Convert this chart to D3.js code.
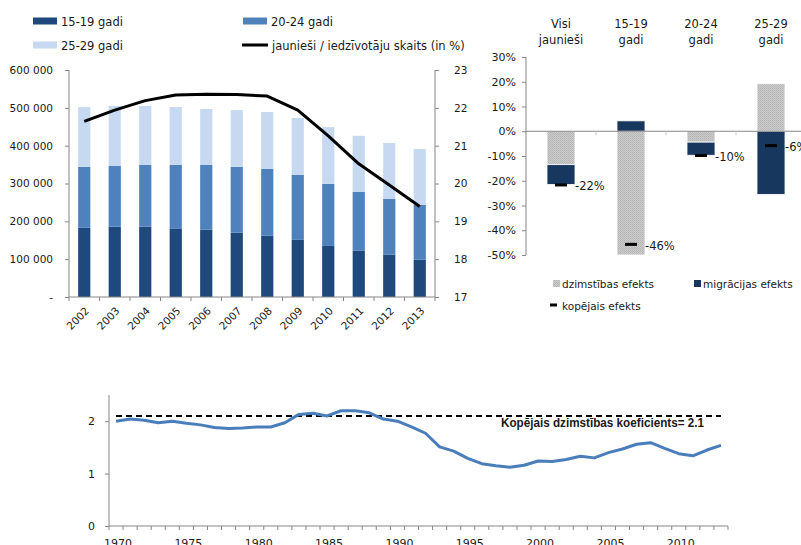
<!DOCTYPE html>
<html>
<head>
<meta charset="utf-8">
<script src="https://cdn.jsdelivr.net/npm/d3@7"></script>
<style>
	body { margin: 0; background: #fff; }
	svg { display: block; }
	text { font-family: "DejaVu Sans", sans-serif; fill: #1a1a1a; }
</style>
</head>
<body>
<svg id="chart" width="801" height="545"></svg>
<script>
// --- data: youth population by age group ---
const years = [2002, 2003, 2004, 2005, 2006, 2007, 2008, 2009, 2010, 2011, 2012, 2013];
const age1519 = [183000, 186000, 186000, 180000, 178000, 170000, 162000, 151000, 135000, 122000, 112000, 98500];
const age2024 = [161000, 161000, 163000, 169000, 171000, 174000, 177000, 172000, 164000, 156000, 147000, 145500];
const age2529 = [158000, 158000, 156000, 153000, 148000, 150000, 150000, 150000, 150000, 148000, 148000, 147000];
const youthShare = [21.64, 21.94, 22.19, 22.34, 22.36, 22.35, 22.31, 21.94, 21.26, 20.52, 19.96, 19.39];
const groupNames = ["15-19 gadi", "20-24 gadi", "25-29 gadi"];
const shareName = "jaunieši / iedzīvotāju skaits (in %)";

// --- data: decomposition of change ---
const effectCats = [["Visi", "jaunieši"], ["15-19", "gadi"], ["20-24", "gadi"], ["25-29", "gadi"]];
const birthEffect = [-13.5, -50, -4.4, 19.2];
const migrationEffect = [-8.0, 4.2, -5.3, -25.5];
const totalEffect = [-21.7, -45.7, -9.8, -5.8];
const totalLabels = ["-22%", "-46%", "-10%", "-6%"];
const effectNames = ["dzimstības efekts", "migrācijas efekts", "kopējais efekts"];

// --- data: total fertility rate ---
const tfrYears = d3.range(1970, 2014);
const tfr = [2.00, 2.04, 2.02, 1.97, 2.00, 1.96, 1.93, 1.88, 1.86, 1.87, 1.89, 1.89, 1.97, 2.13,
	2.15, 2.10, 2.20, 2.20, 2.16, 2.04, 2.00, 1.89, 1.77, 1.51, 1.43, 1.29, 1.19, 1.15,
	1.12, 1.16, 1.24, 1.23, 1.27, 1.33, 1.30, 1.40, 1.47, 1.56, 1.59, 1.48, 1.38, 1.34, 1.45, 1.54];
const replacementLevel = 2.1;
const replacementLabel = "Kopējais dzimstības koeficients= 2.1";

const svg = d3.select("#chart");
const axisColor = "#868686";
const groupColors = ["#1f497d", "#4f81bd", "#c6d9f1"];

// ================= left chart =================
(function () {
	const left = 69, right = 435, top = 70, bottom = 297;
	const x = d3.scaleBand().domain(years).range([left, right]).paddingInner(0.6).paddingOuter(0.3);
	const y = d3.scaleLinear().domain([0, 600000]).range([bottom, top]);
	const y2 = d3.scaleLinear().domain([17, 23]).range([bottom, top]);

	const rows = years.map((yr, i) => ({ year: yr, a: age1519[i], b: age2024[i], c: age2529[i] }));
	const stack = d3.stack().keys(["a", "b", "c"])(rows);

	const g = svg.append("g");
	g.selectAll(".layer")
		.data(stack).enter().append("g")
		.attr("fill", (d, i) => groupColors[i])
		.selectAll("rect")
		.data(d => d).enter().append("rect")
		.attr("x", d => x(d.data.year))
		.attr("width", x.bandwidth())
		.attr("y", d => y(d[1]))
		.attr("height", d => y(d[0]) - y(d[1]));

	const line = d3.line()
		.x((d, i) => x(years[i]) + x.bandwidth() / 2)
		.y(d => y2(d));
	g.append("path")
		.attr("d", line(youthShare))
		.attr("fill", "none")
		.attr("stroke", "#000")
		.attr("stroke-width", 3)
		.attr("stroke-linejoin", "round");

	// left axis
	const fmt = v => v === 0 ? "-" : d3.format(",")(v).replace(/,/g, " ");
	g.append("g")
		.attr("transform", "translate(" + left + ",0)")
		.call(d3.axisLeft(y).ticks(6).tickSize(4).tickPadding(12).tickFormat(fmt))
		.call(a => {
			a.select(".domain").attr("stroke", axisColor).attr("d", "M0," + top + "V" + bottom);
			a.selectAll(".tick line").attr("stroke", axisColor);
			a.selectAll(".tick text").style("font-size", "10.5px").attr("fill", "#1a1a1a");
		});

	// right axis
	g.append("g")
		.attr("transform", "translate(" + right + ",0)")
		.call(d3.axisRight(y2).ticks(6).tickSize(4).tickPadding(15))
		.call(a => {
			a.select(".domain").attr("stroke", axisColor).attr("d", "M0," + top + "V" + bottom);
			a.selectAll(".tick line").attr("stroke", axisColor);
			a.selectAll(".tick text").style("font-size", "10.5px").attr("fill", "#1a1a1a");
		});

	// bottom axis with ticks between categories
	const xb = g.append("g").attr("transform", "translate(0," + bottom + ")");
	xb.append("line").attr("x1", left).attr("x2", right).attr("stroke", axisColor);
	xb.selectAll(".tk")
		.data(d3.range(years.length + 1)).enter().append("line")
		.attr("x1", i => left + i * x.step()).attr("x2", i => left + i * x.step())
		.attr("y1", 0).attr("y2", 4)
		.attr("stroke", axisColor);
	xb.selectAll(".lbl")
		.data(years).enter().append("text")
		.attr("transform", d => "translate(" + (x(d) + x.bandwidth() / 2 + 3) + ",12) rotate(-45)")
		.attr("text-anchor", "end")
		.attr("dy", "0.35em")
		.style("font-size", "10.5px")
		.text(d => d);

	// legend
	const leg = [
		{ x: 33, y: 21, i: 0 },
		{ x: 243, y: 21, i: 1 },
		{ x: 33, y: 45, i: 2 },
	];
	leg.forEach(l => {
		svg.append("rect").attr("x", l.x).attr("y", l.y - 3.5).attr("width", 24).attr("height", 7).attr("fill", groupColors[l.i]);
		svg.append("text").attr("x", l.x + 28).attr("y", l.y + 4.5).style("font-size", "11.5px").text(groupNames[l.i]);
	});
	svg.append("line").attr("x1", 242).attr("x2", 268).attr("y1", 45).attr("y2", 45).attr("stroke", "#000").attr("stroke-width", 3);
	svg.append("text").attr("x", 272).attr("y", 49.5).style("font-size", "11.5px").text(shareName);
})();

// ================= right chart =================
(function () {
	const left = 526, top = 57, bottom = 255;
	const x = d3.scaleBand().domain(d3.range(effectCats.length)).range([left, left + 280]).paddingInner(0.6).paddingOuter(0.3);
	const y = d3.scaleLinear().domain([-50, 30]).range([bottom, top]);
	const navy = "#17375e";

	const defs = svg.append("defs");
	const pat = defs.append("pattern").attr("id", "dots").attr("width", 2).attr("height", 2).attr("patternUnits", "userSpaceOnUse");
	pat.append("rect").attr("width", 2).attr("height", 2).attr("fill", "#cbcbcb");
	pat.append("rect").attr("width", 1).attr("height", 1).attr("fill", "#b4b4b4");
	pat.append("rect").attr("x", 1).attr("y", 1).attr("width", 1).attr("height", 1).attr("fill", "#bcbcbc");

	const g = svg.append("g");

	// stack positives and negatives separately, like the spreadsheet
	effectCats.forEach((c, i) => {
		let pos = 0, neg = 0;
		[[birthEffect[i], "url(#dots)"], [migrationEffect[i], navy]].forEach(([v, fill]) => {
			let y0, y1;
			if (v >= 0) { y0 = pos; y1 = pos + v; pos = y1; }
			else { y0 = neg; y1 = neg + v; neg = y1; }
			g.append("rect")
				.attr("x", x(i))
				.attr("width", x.bandwidth())
				.attr("y", y(Math.max(y0, y1)))
				.attr("height", Math.abs(y(y0) - y(y1)))
				.attr("fill", fill)
				.attr("stroke", "#fff")
				.attr("stroke-width", 0.8);
		});
	});

	// y axis
	g.append("g")
		.attr("transform", "translate(" + left + ",0)")
		.call(d3.axisLeft(y).ticks(8).tickSize(4).tickPadding(6).tickFormat(d => d + "%"))
		.call(a => {
			a.select(".domain").attr("stroke", axisColor).attr("d", "M0," + top + "V" + bottom);
			a.selectAll(".tick line").attr("stroke", axisColor);
			a.selectAll(".tick text").style("font-size", "11px").attr("fill", "#1a1a1a");
		});

	// zero line with category ticks
	g.append("line").attr("x1", left).attr("x2", 801).attr("y1", y(0)).attr("y2", y(0)).attr("stroke", axisColor);
	g.selectAll(".ztk")
		.data(d3.range(1, effectCats.length)).enter().append("line")
		.attr("x1", i => left + i * x.step()).attr("x2", i => left + i * x.step())
		.attr("y1", y(0)).attr("y2", y(0) + 4)
		.attr("stroke", "#c8c8c8");

	// total markers and labels
	totalEffect.forEach((v, i) => {
		const cx = x(i) + x.bandwidth() / 2;
		g.append("line").attr("x1", cx - 6).attr("x2", cx + 6).attr("y1", y(v)).attr("y2", y(v))
			.attr("stroke", "#000").attr("stroke-width", 3);
		g.append("text").attr("x", cx + 14).attr("y", y(v) + 5.5).style("font-size", "11.5px").text(totalLabels[i]);
	});

	// category headers
	effectCats.forEach((lines, i) => {
		const t = g.append("text").attr("text-anchor", "middle").style("font-size", "11.5px");
		lines.forEach((s, k) => {
			t.append("tspan").attr("x", x(i) + x.bandwidth() / 2).attr("y", 28 + k * 16).text(s);
		});
	});

	// legend
	svg.append("rect").attr("x", 553).attr("y", 280).attr("width", 7).attr("height", 7).attr("fill", "url(#dots)");
	svg.append("text").attr("x", 562).attr("y", 287.5).style("font-size", "10.5px").text(effectNames[0]);
	svg.append("rect").attr("x", 694).attr("y", 280).attr("width", 7).attr("height", 7).attr("fill", navy);
	svg.append("text").attr("x", 703).attr("y", 287.5).style("font-size", "10.5px").text(effectNames[1]);
	svg.append("line").attr("x1", 550).attr("x2", 557).attr("y1", 305).attr("y2", 305).attr("stroke", "#000").attr("stroke-width", 3);
	svg.append("text").attr("x", 562).attr("y", 309.5).style("font-size", "10.5px").text(effectNames[2]);
})();

// ================= bottom chart =================
(function () {
	const left = 109, right = 728, top = 395, bottom = 526;
	const x = d3.scaleBand().domain(tfrYears).range([left, right]);
	const y = d3.scaleLinear().domain([0, 2.5]).range([bottom, top]);
	const cx = d => x(d) + x.bandwidth() / 2;

	const g = svg.append("g");

	g.append("line")
		.attr("x1", cx(tfrYears[0])).attr("x2", cx(tfrYears[tfrYears.length - 1]))
		.attr("y1", y(replacementLevel)).attr("y2", y(replacementLevel))
		.attr("stroke", "#000").attr("stroke-width", 2).attr("stroke-dasharray", "6,4");

	g.append("path")
		.attr("d", d3.line().x((d, i) => cx(tfrYears[i])).y(d => y(d))(tfr))
		.attr("fill", "none")
		.attr("stroke", "#4a7ebb")
		.attr("stroke-width", 3)
		.attr("stroke-linejoin", "round");

	g.append("text")
		.attr("x", 501).attr("y", 427)
		.style("font-family", "'Liberation Sans', Arial, sans-serif")
		.style("font-size", "12px").style("font-weight", "bold")
		.attr("textLength", 203).attr("lengthAdjust", "spacingAndGlyphs")
		.text(replacementLabel);

	// y axis
	g.append("g")
		.attr("transform", "translate(" + left + ",0)")
		.call(d3.axisLeft(y).tickValues([0, 1, 2]).tickSize(4).tickPadding(10).tickFormat(d3.format("d")))
		.call(a => {
			a.select(".domain").attr("stroke", axisColor).attr("d", "M0," + top + "V" + bottom);
			a.selectAll(".tick line").attr("stroke", axisColor);
			a.selectAll(".tick text").style("font-size", "11px").attr("fill", "#1a1a1a");
		});

	// x axis: ticks between years, labels every 5 years
	const xb = g.append("g").attr("transform", "translate(0," + bottom + ")");
	xb.append("line").attr("x1", left).attr("x2", right).attr("stroke", axisColor);
	xb.selectAll(".tk")
		.data(d3.range(tfrYears.length + 1)).enter().append("line")
		.attr("x1", i => left + i * x.step()).attr("x2", i => left + i * x.step())
		.attr("y1", 0).attr("y2", 4)
		.attr("stroke", axisColor);
	xb.selectAll(".lbl")
		.data(tfrYears.filter(d => d % 5 === 0)).enter().append("text")
		.attr("x", d => cx(d) + 2)
		.attr("y", 21)
		.attr("text-anchor", "middle")
		.style("font-size", "11px")
		.text(d => d);
})();
</script>
</body>
</html>
